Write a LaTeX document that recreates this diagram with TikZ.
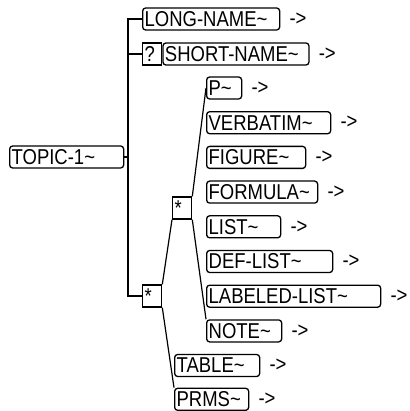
\documentclass[tikz,border=0pt]{standalone}
\usepackage{fontspec}
\setmainfont{Liberation Sans}[FakeStretch=0.86]
\usetikzlibrary{positioning}
\newcommand\dtdfont{\fontsize{21.5}{23}\selectfont}
\tikzset{
  elem/.style={draw,rounded corners=3pt,line width=1.3pt,anchor=west,
    minimum height=22pt,inner xsep=2pt,inner ysep=0pt,align=left,
    text width=#1,font=\dtdfont},
  occur/.style={draw,line width=1.3pt,anchor=west,minimum height=22pt,
    inner xsep=2pt,inner ysep=0pt,text width=15pt,align=left,font=\dtdfont},
  more/.style={anchor=west,inner sep=0pt,font=\dtdfont},
  link/.style={line width=1.2pt},
}

\begin{document}
\begin{tikzpicture}[x=1pt,y=-1pt]
  \useasboundingbox (0,0) rectangle (409,411);

  % root element and its content model
  \node[elem=110pt] (topic) at (9,157) {TOPIC-1\textasciitilde};
  \node[elem=133pt] (longname) at (142,19) {LONG-NAME\textasciitilde};
  \node[occur] (opt) at (142,54) {?};
  \node[elem=142pt] (shortname) at (opt.east) {SHORT-NAME\textasciitilde};
  \node[occur] (rep) at (142,296) {*};
  \node[occur] (choice) at (172,208) {*};

  % the choice group
  \foreach \nm/\txt/\w [count=\i from 0] in {p/P/31pt,verbatim/VERBATIM/120pt,
      figure/FIGURE/95pt,formula/FORMULA/107pt,list/LIST/70pt,
      deflist/DEF-LIST/122pt,lablist/LABELED-LIST/170pt,note/NOTE/71pt}
  {
    \node[elem=\w] (\nm) at (206,{88+34.7*\i}) {\txt\textasciitilde};
    \node[more,right=9pt of \nm] (\nm-more) {->};
  }

  \node[elem=81pt] (table) at (174,365.5) {TABLE\textasciitilde};
  \node[elem=70pt] (prms) at (174,399.3) {PRMS\textasciitilde};

  \node[more,right=9pt of longname] (longname-more) {->};
  \node[more,right=9pt of shortname] (shortname-more) {->};
  \node[more,right=9pt of table] (table-more) {->};
  \node[more,right=9pt of prms] (prms-more) {->};

  % sequence bracket
  \coordinate (trunk) at (128,19);
  \draw[link] (longname.west) -- (trunk) |- (rep.west);
  \draw[link] (opt.west) -- (opt.west -| trunk);
  \draw[link] (topic.east) -- (topic.east -| trunk);

  % fans
  \draw[link] (choice.north east) -- (p.west);
  \draw[link] (choice.south east) -- (note.north west);
  \draw[link] (rep.north east) -- (choice.south west);
  \draw[link] (rep.south east) -- (prms.north west);
\end{tikzpicture}
\end{document}
